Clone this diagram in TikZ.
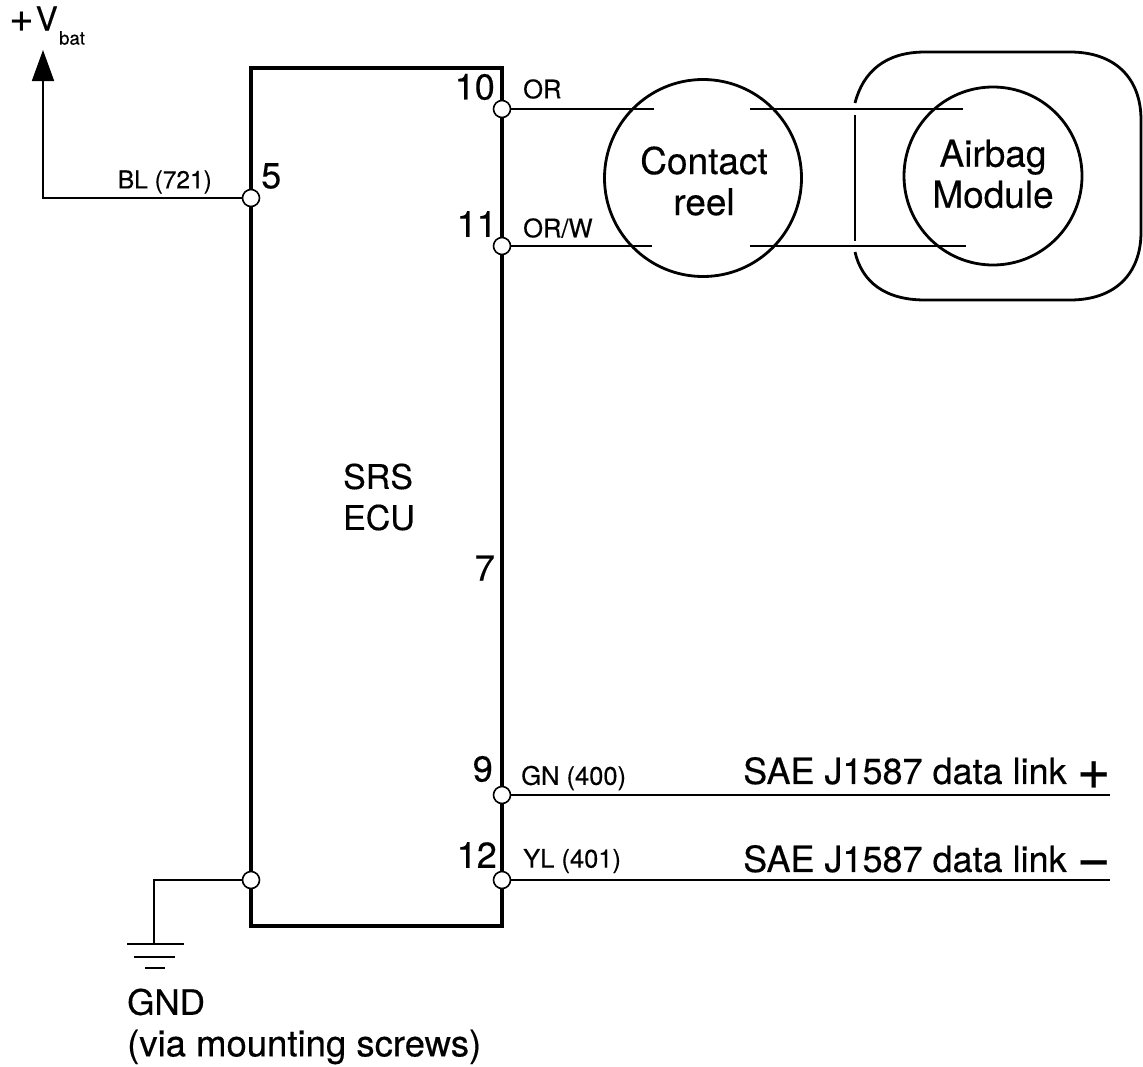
\documentclass[tikz,border=0pt]{standalone}
\usepackage{fontspec}
\setmainfont[FakeBold=0.35]{TeX Gyre Heros}
\usetikzlibrary{arrows.meta}
\tikzset{
  pin/.style={circle,draw=black,fill=white,line width=1.6pt,minimum size=17pt,inner sep=0pt},
  thick line/.style={line width=3.5pt,line join=miter},
  wire/.style={line width=1.8pt},
  ring/.style={circle,draw=black,line width=2.8pt,inner sep=0pt},
  lab/.style={inner sep=0pt,font=\fontsize{25.5}{28}\selectfont},
  num/.style={inner sep=0pt,font=\fontsize{36}{38}\selectfont},
  big/.style={inner sep=0pt,font=\fontsize{37}{41}\selectfont,align=center},
  long/.style={inner sep=0pt,anchor=west,font=\fontsize{36}{38}\selectfont},
}
\begin{document}
\begin{tikzpicture}[x=1pt,y=-1pt]
\useasboundingbox[fill=white] (0,0) rectangle (1143,1066);
% ECU
\coordinate (tl) at (251,68); \coordinate (tr) at (502,68);
\coordinate (bl) at (251,926); \coordinate (br) at (502,926);
\draw[thick line] (tl) -- (tr) -- (br) -- (bl) -- cycle;
\node[inner sep=0pt,font=\fontsize{34}{41}\selectfont,align=left] (ecu) at (379,497) {SRS\\ECU};
% circles
\node[ring,minimum size=197pt] (reel) at (703,178) {};
\node[ring,minimum size=178pt] (bag) at (993,176) {};
\node[big] (reeltxt) at (704,181) {Contact\\reel};
\node[big] (bagtxt) at (993,174) {Airbag\\Module};
% airbag housing
\draw[line width=2.8pt] (855,103) .. controls (863,72) and (885,52) .. (925,52) -- (1070,52)
  .. controls (1115,52) and (1141,78) .. (1141,120) -- (1141,232)
  .. controls (1141,274) and (1115,300) .. (1070,300) -- (925,300)
  .. controls (885,300) and (862,282) .. (855,252);
\draw[line width=2.8pt] (855,115) -- (855,241);
% pins
\node[pin] (p5) at (251,198) {};
\node[pin] (pg) at (251,880) {};
\node[pin] (p10) at (502,109) {};
\node[pin] (p11) at (502,246) {};
\node[pin] (p9) at (502,795) {};
\node[pin] (p12) at (502,880) {};
% wires to the contact reel and module
\coordinate (a1) at (654,109); \coordinate (a2) at (750,109); \coordinate (a3) at (963,109);
\coordinate (b1) at (652,246); \coordinate (b2) at (750,246); \coordinate (b3) at (966,246);
\draw[wire] (p10) -- (a1);
\draw[wire] (a2) -- (a3);
\draw[wire] (p11) -- (b1);
\draw[wire] (b2) -- (b3);
% data link
\coordinate (d1) at (1110,795); \coordinate (d2) at (1110,880);
\draw[wire] (p9) -- (d1);
\draw[wire] (p12) -- (d2);
% Vbat
\coordinate (vc) at (43,198); \coordinate (vt) at (43,50);
\draw[wire,-{Triangle[length=31pt,width=22pt]}] (p5) -- (vc) -- (vt);
% Ground
\coordinate (gc) at (154,880); \coordinate (g0) at (154,944);
\draw[wire] (pg) -- (gc) -- (g0);
\coordinate (g1l) at (127,944); \coordinate (g1r) at (184,944);
\coordinate (g2l) at (134,957); \coordinate (g2r) at (175,957);
\coordinate (g3l) at (145,968); \coordinate (g3r) at (165,968);
\draw[wire] (g1l) -- (g1r);
\draw[wire] (g2l) -- (g2r);
\draw[wire] (g3l) -- (g3r);
% labels
\node[inner sep=0pt,anchor=west,font=\fontsize{33}{36}\selectfont] (vbat) at (9,19) {{\fontsize{42}{42}\selectfont\raisebox{-1pt}{+}}\kern2pt V};
\node[inner sep=0pt,anchor=west,font=\fontsize{18.5}{20}\selectfont] (vsub) at (59,38) {bat};
\node[inner sep=0pt,anchor=east,font=\fontsize{24.5}{28}\selectfont] (l5) at (212,182) {BL (721)};
\node[num,anchor=west] (n5) at (261,176) {5};
\node[num,anchor=east] (n10) at (495,87) {10};
\node[num,anchor=east] (n11) at (497,224) {11};
\node[num,anchor=east] (n7) at (495,568) {7};
\node[num,anchor=east] (n9) at (493,769) {9};
\node[num,anchor=east] (n12) at (497,855) {12};
\node[lab,anchor=west] (lor) at (523,89) {OR};
\node[lab,anchor=west] (lorw) at (523,228) {OR/W};
\node[lab,anchor=west] (lgn) at (521,778) {GN (400)};
\node[lab,anchor=west] (lyl) at (523,861) {YL (401)};
\node[long] (sp) at (743,773) {SAE J1587 data link {\fontsize{58}{58}\selectfont\raisebox{-5pt}{+}}};
\node[long] (sm) at (743,861) {SAE J1587 data link {\fontsize{58}{58}\selectfont\raisebox{-5pt}{\char"2212}}};
\node[inner sep=0pt,anchor=west,font=\fontsize{35}{38}\selectfont] (gnd) at (127,1002) {GND};
\node[inner sep=0pt,anchor=west,font=\fontsize{36.5}{38}\selectfont] (via) at (127,1047) {(via mounting screws)};
\end{tikzpicture}
\end{document}
